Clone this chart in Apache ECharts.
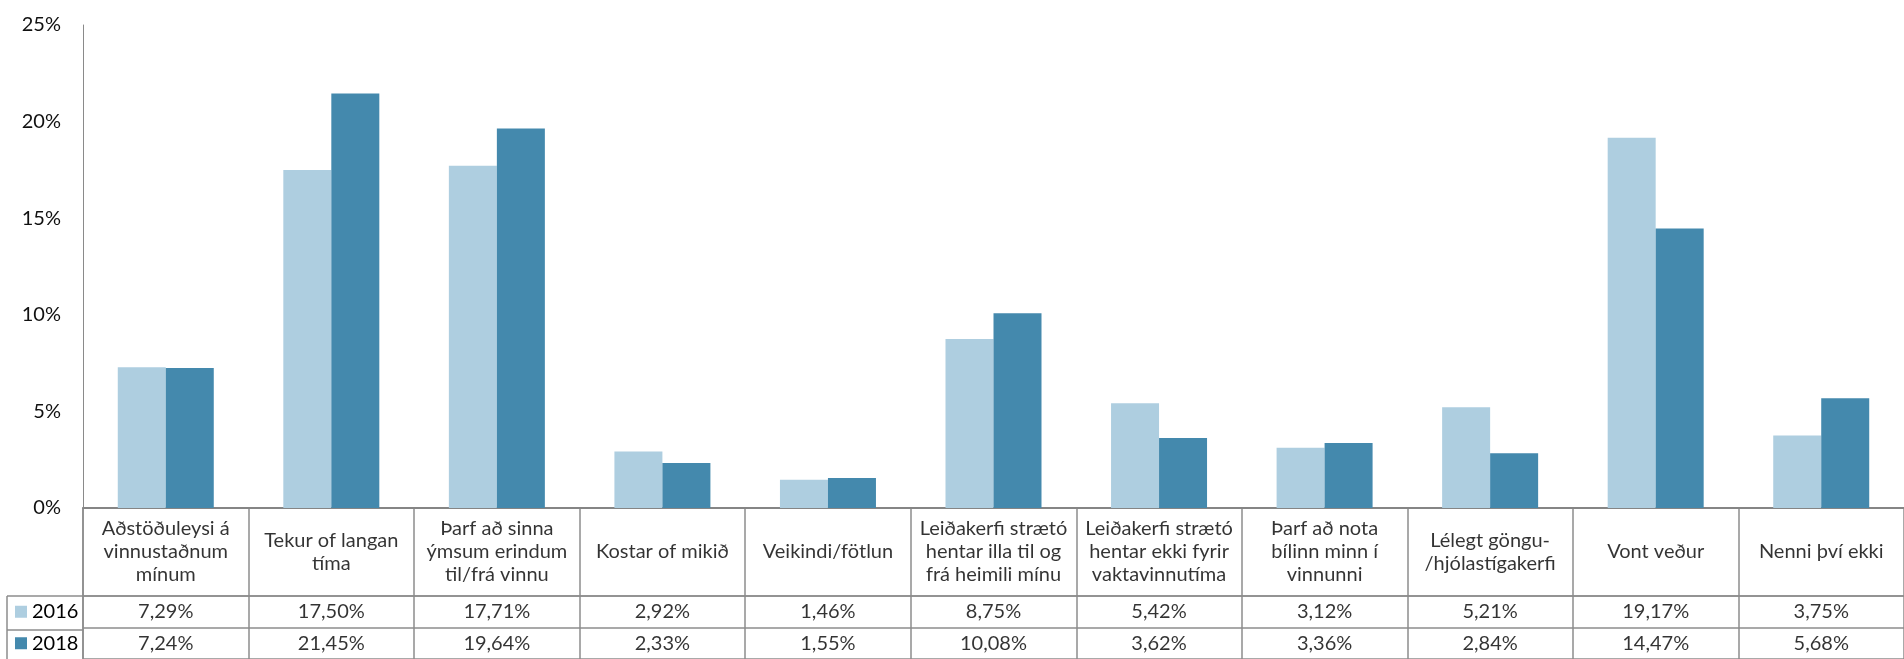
<!DOCTYPE html>
<html>
<head>
<meta charset="utf-8">
<script src="https://cdn.jsdelivr.net/npm/echarts@6/dist/echarts.min.js"></script>
<style>
  html, body { margin: 0; padding: 0; background: #fff; }
  #chart { width: 1904px; height: 659px; }
</style>
</head>
<body>
<div id="chart"></div>
<script>
// Categories (table header text, wrapped as in the original table)
const categories = [
  'Aðstöðuleysi á\nvinnustaðnum\nmínum',
  'Tekur of langan\ntíma',
  'Þarf að sinna\nýmsum erindum\ntil/frá vinnu',
  'Kostar of mikið',
  'Veikindi/fötlun',
  'Leiðakerfi strætó\nhentar illa til og\nfrá heimili mínu',
  'Leiðakerfi strætó\nhentar ekki fyrir\nvaktavinnutíma',
  'Þarf að nota\nbílinn minn í\nvinnunni',
  'Lélegt göngu-\n/hjólastígakerfi',
  'Vont veður',
  'Nenni því ekki',
]
const years = ['2016', '2018']
const values2016 = [7.29, 17.50, 17.71, 2.92, 1.46, 8.75, 5.42, 3.12, 5.21, 19.17, 3.75]
const values2018 = [7.24, 21.45, 19.64, 2.33, 1.55, 10.08, 3.62, 3.36, 2.84, 14.47, 5.68]
const yTicks = { min: 0, max: 25, interval: 5 }

const COLORS = { '2016': '#aecee0', '2018': '#4489ad' }
const FONT = 'Lato, "Liberation Sans", sans-serif'
const BORDER = '#8c8c8c'

// layout
const PLOT_LEFT = 83
const PLOT_TOP = 25
const PLOT_W = 1834          // the original table runs a little past the right edge
const AXIS_Y = 508
const HEAD_H = 88
const ROW_H = 34
const LEG_LEFT = 7

const fmtPct = v => v.toFixed(2).replace('.', ',') + '%'

const chart = echarts.init(document.getElementById('chart'))

const catAxisBase = {
  type: 'category',
  data: categories,
  boundaryGap: true,
  axisTick: { show: false },
  axisLabel: { show: false },
}

const cellText = { color: '#000', fontFamily: FONT, fontSize: 20, lineHeight: 23 }

chart.setOption({
  animation: false,
  textStyle: { fontFamily: FONT },
  grid: [
    { left: PLOT_LEFT, top: PLOT_TOP, width: PLOT_W, height: AXIS_Y - PLOT_TOP },
    { left: PLOT_LEFT, top: AXIS_Y, width: PLOT_W, height: HEAD_H },
    { left: PLOT_LEFT, top: AXIS_Y + HEAD_H, width: PLOT_W, height: ROW_H * 2 },
  ],
  xAxis: [
    {
      ...catAxisBase,
      gridIndex: 0,
      axisLine: { show: true, lineStyle: { color: '#858585', width: 2 } },
    },
    {
      ...catAxisBase,
      gridIndex: 1,
      axisLine: { show: true, lineStyle: { color: BORDER, width: 1.5 } },
      splitLine: { show: true, lineStyle: { color: BORDER, width: 1.5 } },
    },
    {
      ...catAxisBase,
      gridIndex: 2,
      axisLine: { show: false },
      splitLine: { show: true, lineStyle: { color: BORDER, width: 1.5 } },
    },
  ],
  yAxis: [
    {
      type: 'value',
      gridIndex: 0,
      ...yTicks,
      axisLine: { show: true, lineStyle: { color: '#8a8a8a', width: 1 } },
      axisTick: { show: false },
      splitLine: { show: false },
      axisLabel: {
        formatter: '{value}%',
        color: '#111',
        fontFamily: FONT,
        fontSize: 20,
        margin: 22,
      },
    },
    {
      type: 'value',
      gridIndex: 1,
      min: 0,
      max: 1,
      axisLine: { show: true, lineStyle: { color: BORDER, width: 1.5 } },
      axisTick: { show: false },
      axisLabel: { show: false },
      splitLine: { show: false },
    },
    {
      type: 'category',
      gridIndex: 2,
      data: years,
      inverse: true,
      axisLine: { show: true, lineStyle: { color: BORDER, width: 1.5 } },
      axisTick: { show: false },
      splitLine: { show: true, lineStyle: { color: BORDER, width: 1.5 } },
      axisLabel: {
        align: 'left',
        margin: PLOT_LEFT - 15,
        formatter: v => `{sq${v}|}{t|${v}}`,
        rich: {
          sq2016: { width: 12, height: 12, backgroundColor: COLORS['2016'] },
          sq2018: { width: 12, height: 12, backgroundColor: COLORS['2018'] },
          t: { ...cellText, padding: [0, 0, 0, 5] },
        },
      },
    },
  ],
  graphic: [
    // legend column borders, left of the value rows
    {
      type: 'line', silent: true,
      shape: { x1: LEG_LEFT, y1: AXIS_Y + HEAD_H, x2: LEG_LEFT, y2: AXIS_Y + HEAD_H + ROW_H * 2 },
      style: { stroke: BORDER, lineWidth: 1.5 },
    },
    {
      type: 'line', silent: true,
      shape: { x1: LEG_LEFT, y1: AXIS_Y + HEAD_H, x2: PLOT_LEFT, y2: AXIS_Y + HEAD_H },
      style: { stroke: BORDER, lineWidth: 1.5 },
    },
    {
      type: 'line', silent: true,
      shape: { x1: LEG_LEFT, y1: AXIS_Y + HEAD_H + ROW_H, x2: PLOT_LEFT, y2: AXIS_Y + HEAD_H + ROW_H },
      style: { stroke: BORDER, lineWidth: 1.5 },
    },
  ],
  series: [
    {
      name: '2016',
      type: 'bar',
      xAxisIndex: 0,
      yAxisIndex: 0,
      data: values2016,
      barWidth: 48,
      barGap: '0%',
      itemStyle: { color: COLORS['2016'] },
    },
    {
      name: '2018',
      type: 'bar',
      xAxisIndex: 0,
      yAxisIndex: 0,
      data: values2018,
      barWidth: 48,
      barGap: '0%',
      itemStyle: { color: COLORS['2018'] },
    },
    // header cells
    {
      type: 'scatter',
      xAxisIndex: 1,
      yAxisIndex: 1,
      silent: true,
      symbolSize: 1,
      itemStyle: { color: 'rgba(0,0,0,0)' },
      data: categories.map((c, i) => [i, 0.5]),
      label: {
        show: true,
        position: 'inside',
        formatter: p => categories[p.dataIndex],
        align: 'center',
        verticalAlign: 'middle',
        ...cellText,
      },
    },
    // value cells
    {
      type: 'scatter',
      xAxisIndex: 2,
      yAxisIndex: 2,
      silent: true,
      symbolSize: 1,
      itemStyle: { color: 'rgba(0,0,0,0)' },
      data: [
        ...values2016.map((v, i) => [i, 0, v]),
        ...values2018.map((v, i) => [i, 1, v]),
      ],
      label: {
        show: true,
        position: 'inside',
        formatter: p => fmtPct(p.value[2]),
        align: 'center',
        verticalAlign: 'middle',
        ...cellText,
      },
    },
  ],
})
</script>
</body>
</html>
